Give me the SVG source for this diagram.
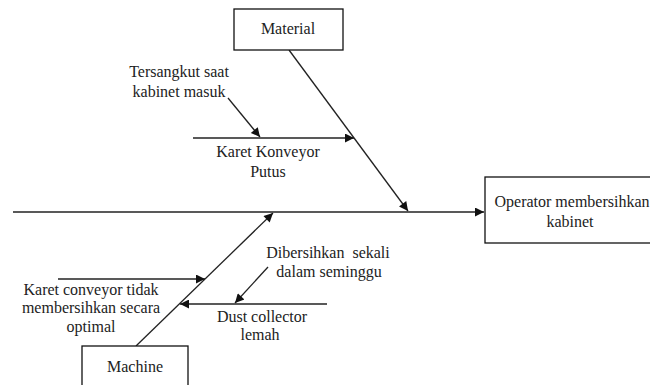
<svg xmlns="http://www.w3.org/2000/svg" width="650" height="385" viewBox="0 0 650 385">
<defs>
<marker id="ah" viewBox="0 0 10 10" refX="10" refY="5" markerWidth="11" markerHeight="9" markerUnits="userSpaceOnUse" orient="auto">
<path d="M0,0 L10,5 L0,10 z" fill="#111"/>
</marker>
</defs>
<rect width="650" height="385" fill="#fff"/>
<g id="connectors" fill="none" stroke="#222" stroke-width="1.3" marker-end="url(#ah)">
<line x1="13" y1="212" x2="484" y2="212"/>
<line x1="289" y1="50" x2="408" y2="211"/>
<line x1="193" y1="138" x2="354" y2="138"/>
<line x1="228" y1="98" x2="260" y2="137"/>
<line x1="136" y1="346" x2="273" y2="213"/>
<line x1="58" y1="279" x2="205" y2="279"/>
<line x1="327" y1="304" x2="180" y2="304"/>
<line x1="268" y1="267" x2="235" y2="303"/>
</g>
<g font-family="'Liberation Serif', serif" font-size="16" fill="#222" text-anchor="middle">
<g id="material">
<rect x="234" y="9" width="109" height="41" fill="#fff" stroke="#111" stroke-width="1.3"/>
<text x="288" y="34">Material</text>
</g>
<g id="operator">
<rect x="485" y="177" width="180" height="66" fill="#fff" stroke="#111" stroke-width="1.3"/>
<text x="572" y="207">Operator membersihkan</text>
<text x="570" y="227">kabinet</text>
</g>
<g id="machine">
<rect x="82" y="346" width="106" height="50" fill="#fff" stroke="#111" stroke-width="1.3"/>
<text x="135" y="372">Machine</text>
</g>
<g id="tersangkut">
<text x="179" y="77">Tersangkut saat</text>
<text x="179" y="97">kabinet masuk</text>
</g>
<g id="karet-konveyor">
<text x="268" y="157">Karet Konveyor</text>
<text x="268" y="177">Putus</text>
</g>
<g id="dibersihkan">
<text x="328" y="258" xml:space="preserve">Dibersihkan  sekali</text>
<text x="329" y="277">dalam seminggu</text>
</g>
<g id="dust-collector">
<text x="262" y="322">Dust collector</text>
<text x="260" y="340">lemah</text>
</g>
<g id="karet-conveyor">
<text x="91" y="295">Karet conveyor tidak</text>
<text x="91" y="313">membersihkan secara</text>
<text x="91" y="332">optimal</text>
</g>
</g>
</svg>
